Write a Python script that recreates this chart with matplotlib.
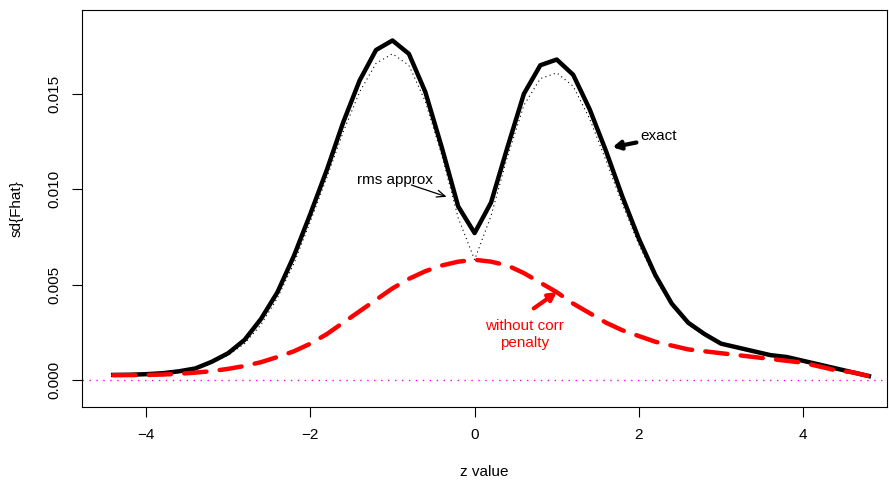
import matplotlib
matplotlib.use("Agg")
import matplotlib.pyplot as plt

plt.rcParams['font.family'] = ['Liberation Sans', 'DejaVu Sans']

# z grid used for all three curves
z = [-4.4, -4.2, -4.0, -3.8, -3.6, -3.4, -3.2, -3.0, -2.8, -2.6, -2.4, -2.2,
     -2.0, -1.8, -1.6, -1.4, -1.2, -1.0, -0.8, -0.6, -0.4, -0.2, 0.0, 0.2,
     0.4, 0.6, 0.8, 1.0, 1.2, 1.4, 1.6, 1.8, 2.0, 2.2, 2.4, 2.6, 2.8, 3.0,
     3.2, 3.4, 3.6, 3.8, 4.0, 4.2, 4.4, 4.6, 4.8]

sd_exact = [0.00026, 0.00027, 0.0003, 0.00035, 0.00045, 0.0006, 0.00095, 0.0014,
            0.0021, 0.0032, 0.0046, 0.0065, 0.0087, 0.0110, 0.0135, 0.0157,
            0.0173, 0.0178, 0.0171, 0.0151, 0.0122, 0.0091, 0.0077, 0.0093,
            0.0122, 0.0150, 0.0165, 0.0168, 0.0160, 0.0142, 0.0120, 0.0096,
            0.0074, 0.0055, 0.0040, 0.0030, 0.0024, 0.0019, 0.0017, 0.0015,
            0.0013, 0.0012, 0.0010, 0.0008, 0.0006, 0.0004, 0.0002]

sd_rms = [0.00025, 0.00026, 0.00029, 0.00033, 0.00042, 0.00056, 0.0009, 0.0013,
          0.0019, 0.0029, 0.0043, 0.0061, 0.0083, 0.0106, 0.0130, 0.0151,
          0.0166, 0.0171, 0.0165, 0.0146, 0.0118, 0.0085, 0.0063, 0.0086,
          0.0117, 0.0144, 0.0158, 0.0161, 0.0154, 0.0137, 0.0115, 0.0092,
          0.0071, 0.0053, 0.0039, 0.0029, 0.0023, 0.0019, 0.0017, 0.0015,
          0.0013, 0.0012, 0.0010, 0.0008, 0.0006, 0.0004, 0.0002]

sd_nocorr = [0.00025, 0.00025, 0.00026, 0.00028, 0.00032, 0.00038, 0.00046, 0.00058,
             0.00073, 0.00093, 0.0012, 0.0015, 0.0019, 0.0024, 0.0030, 0.0036,
             0.0042, 0.0048, 0.0053, 0.0057, 0.0060, 0.0062, 0.0063, 0.0062,
             0.0060, 0.0056, 0.0051, 0.0046, 0.0040, 0.0035, 0.0030, 0.0026,
             0.0023, 0.0020, 0.0018, 0.0016, 0.0015, 0.0014, 0.0013, 0.0012,
             0.0011, 0.0010, 0.0009, 0.0007, 0.0005, 0.0004, 0.0002]

x_ticks = [-4, -2, 0, 2, 4]
y_ticks = [0.000, 0.005, 0.010, 0.015]
y_ticklabels = ["0.000", "0.005", "0.010", "0.015"]

fig = plt.figure(figsize=(8.89, 4.83), dpi=100)
ax = fig.add_axes([0.0922, 0.1574, 0.9055, 0.822])

ax.axhline(0, color='magenta', lw=1.0, linestyle=(0, (1, 4)))
ax.plot(z, sd_exact, color='black', lw=3.2, solid_joinstyle='round')
ax.plot(z, sd_rms, color='black', lw=0.8, linestyle=(0, (1, 3)))
ax.plot(z, sd_nocorr, color='red', lw=3.2, linestyle=(0, (5, 3.0)),
        dash_capstyle='round')

# labels and arrows
ax.text(-0.97, 0.0105, "rms approx", ha='center', va='center', fontsize=11)
ax.annotate("", xy=(-0.34, 0.0096), xytext=(-0.77, 0.01022),
            arrowprops=dict(arrowstyle='->,head_length=0.6,head_width=0.25',
                            color='black', lw=0.9, shrinkA=0, shrinkB=0))

ax.text(2.24, 0.0128, "exact", ha='center', va='center', fontsize=11)
ax.annotate("", xy=(1.68, 0.0122), xytext=(1.97, 0.01245),
            arrowprops=dict(arrowstyle='-|>,head_length=0.45,head_width=0.25',
                            color='black', lw=3, shrinkA=0, shrinkB=0))

ax.text(0.61, 0.0024, "without corr\npenalty", ha='center', va='center',
        fontsize=11, color='red', linespacing=1.25)
ax.annotate("", xy=(1.0, 0.0046), xytext=(0.72, 0.00375),
            arrowprops=dict(arrowstyle='-|>,head_length=0.45,head_width=0.25',
                            color='red', lw=3, shrinkA=0, shrinkB=0))

ax.set_xlim(-4.78, 5.02)
ax.set_ylim(-0.00142, 0.0194)
ax.set_xticks(x_ticks)
ax.set_xticklabels([str(t).replace('-', '\u2212') for t in x_ticks])
ax.set_yticks(y_ticks)
ax.set_yticklabels(y_ticklabels, rotation=90, va='center')
ax.tick_params(direction='out', length=7, width=0.8, labelsize=11, pad=8)
for s in ax.spines.values():
    s.set_linewidth(0.8)

ax.set_xlabel("z value", fontsize=11, labelpad=17)
ax.set_ylabel("sd{Fhat}", fontsize=11, labelpad=17)

fig.savefig("out.png", dpi=100)
